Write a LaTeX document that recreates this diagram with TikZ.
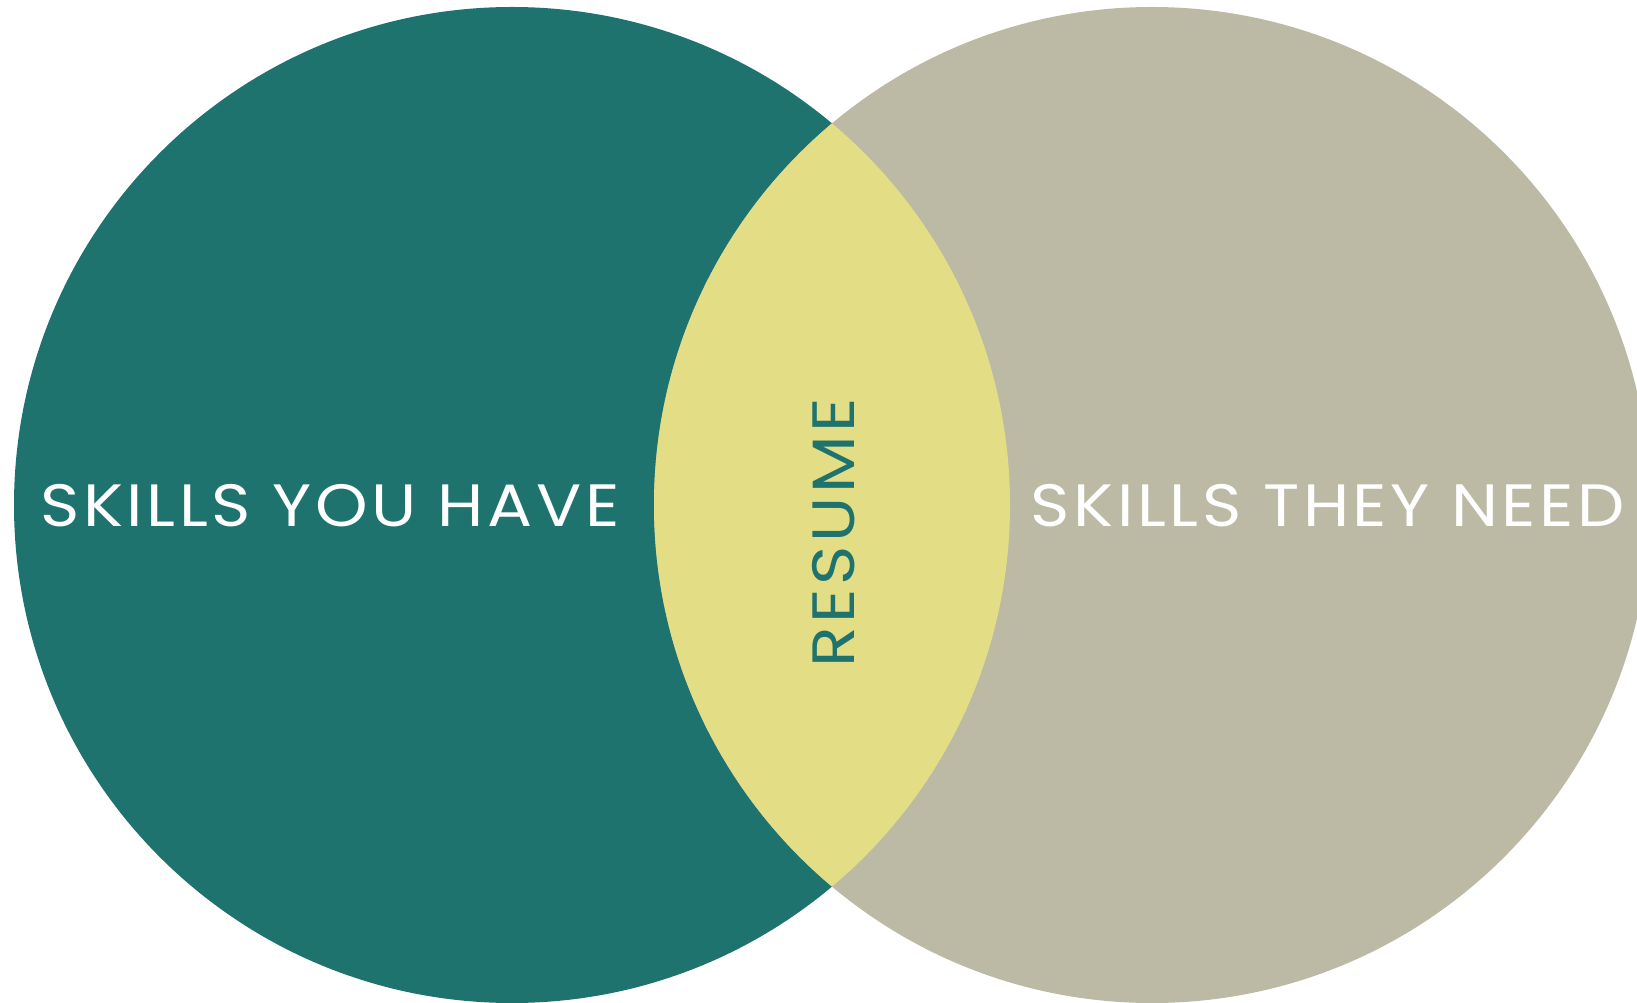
\documentclass[tikz,border=0pt]{standalone}
\usepackage{fontspec}
\newfontfamily\vennfont[LetterSpace=6,FakeStretch=1.12]{Poppins}
\definecolor{haveteal}{RGB}{31,115,110}
\definecolor{needgray}{RGB}{188,185,165}
\definecolor{resumeyellow}{RGB}{227,221,133}
\tikzset{
  label/.style={font=\vennfont\fontsize{34}{40}\selectfont, inner sep=0pt}
}

\begin{document}
\begin{tikzpicture}[x=0.02cm,y=0.02cm]
	\useasboundingbox (0,0) rectangle (1637,1002);
	\clip (0,0) rectangle (1637,1002);
	% the two sets
	\fill[haveteal] (512,497) circle (498);
	\fill[needgray] (1152,497) circle (498);
	% overlap
	\begin{scope}
		\clip (512,497) circle (498);
		\fill[resumeyellow] (1152,497) circle (498);
	\end{scope}
	\node[label, white] (have) at (330,496) {SKILLS YOU HAVE};
	\node[label, white] (need) at (1328,496) {SKILLS THEY NEED};
	\node[label, haveteal, rotate=90] (resume) at (834,469) {RESUME};
\end{tikzpicture}
\end{document}
